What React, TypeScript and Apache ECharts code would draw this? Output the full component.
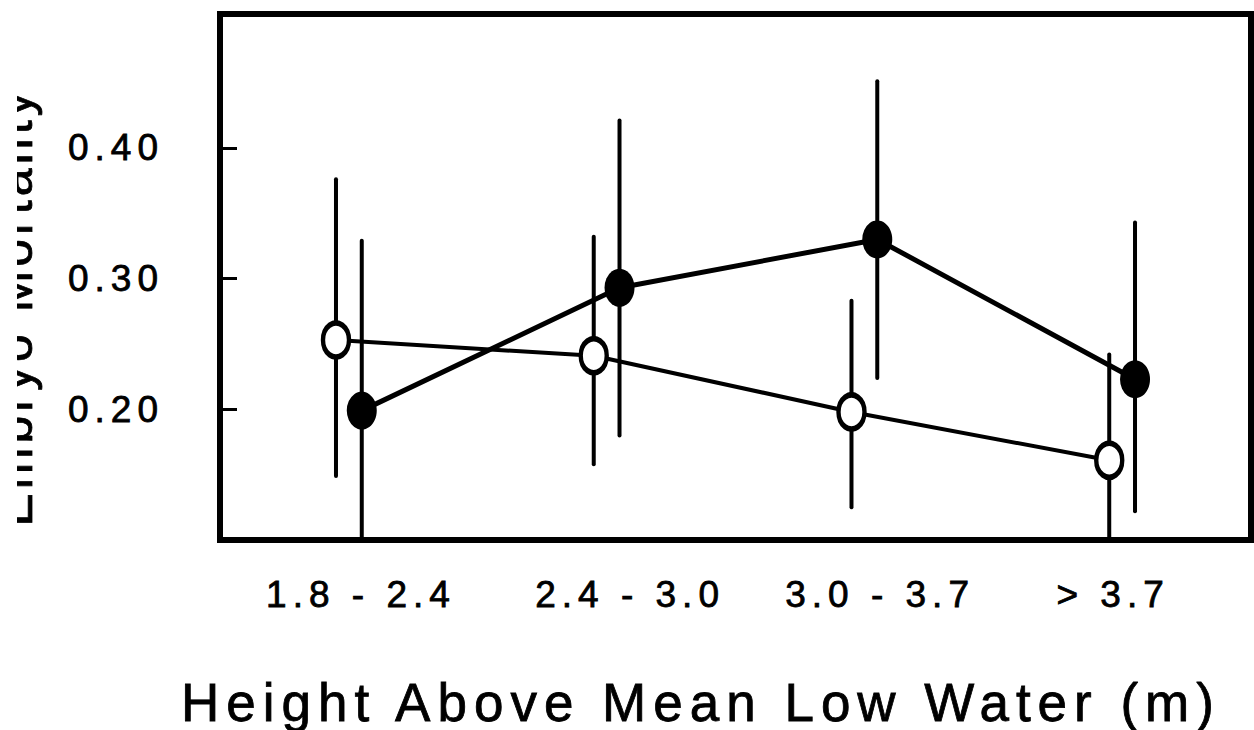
import React, { useEffect, useRef } from 'react';
import * as echarts from 'echarts';

const categories = ['1.8 - 2.4', '2.4 - 3.0', '3.0 - 3.7', '> 3.7'];
const categoryPos = [1, 2, 3, 4];
const yTickValues = [0.2, 0.3, 0.4];

// open circles
const openMean = [0.253, 0.241, 0.198, 0.161];
const openHigh = [0.376, 0.332, 0.283, 0.242];
const openLow = [0.149, 0.158, 0.125, 0.08];
// filled circles
const filledMean = [0.199, 0.293, 0.33, 0.223];
const filledHigh = [0.329, 0.421, 0.451, 0.343];
const filledLow = [0.068, 0.18, 0.224, 0.122];

// layout: where the category labels sit along the x axis (as in the original figure)
const X_LABEL_AT = [1.047, 2.091, 3.061, 3.965];

const Y_MIN = 0.1;
const Y_MAX = 0.5025;
const OFFSET = 0.05;
const FONT = "'Liberation Sans', Arial, Helvetica, sans-serif";
const TEXT_BOLDEN = { textBorderColor: '#000', textBorderWidth: 0.8 };

const css = `
.chartbox text { letter-spacing: 7px; }
.chartbox text[style*="37px"] { letter-spacing: 6px; }
.chartbox text[style*="50px"] { letter-spacing: 4px; }
`;

export default function App() {
  const ref = useRef<HTMLDivElement>(null);
  useEffect(() => {
    const chart = echarts.init(ref.current!, null, { renderer: 'svg' });
    const errorSeries = (xs: number[], lows: number[], highs: number[]) => ({
      type: 'custom',
      z: 1,
      clip: true,
      data: xs.map((x, i) => [x, lows[i], highs[i]]),
      encode: { x: 0, y: [1, 2] },
      renderItem: (_params: any, api: any) => {
        const x = api.value(0);
        const lo = Math.max(api.value(1), Y_MIN);
        const hi = api.value(2);
        const p1 = api.coord([x, lo]);
        const p2 = api.coord([x, hi]);
        return {
          type: 'line',
          shape: { x1: p1[0], y1: p1[1], x2: p2[0], y2: p2[1] },
          style: { stroke: '#000', lineWidth: 4, lineCap: 'round' },
        };
      },
    });
    const openX = categoryPos.map((p) => p - OFFSET);
    const filledX = categoryPos.map((p) => p + OFFSET);
    chart.setOption({
      animation: false,
      backgroundColor: '#fff',
      grid: {
        left: 203,
        right: 3,
        top: 14,
        bottom: 190,
        show: true,
        borderColor: '#000',
        borderWidth: 6,
        backgroundColor: 'transparent',
      },
      xAxis: {
        type: 'value',
        min: 0.5,
        max: 4.5,
        interval: 0.5,
        axisLine: { show: false },
        axisTick: { show: false },
        splitLine: { show: false },
        axisLabel: {
          customValues: X_LABEL_AT,
          formatter: (v: number) => {
            const i = X_LABEL_AT.findIndex((p) => Math.abs(p - v) < 1e-6);
            return i >= 0 ? categories[i] : '';
          },
          fontSize: 37,
          fontFamily: FONT,
          color: '#000',
          margin: 36,
          ...TEXT_BOLDEN,
        },
      },
      yAxis: {
        type: 'value',
        min: Y_MIN,
        max: Y_MAX,
        interval: 0.1,
        axisLine: { show: false },
        axisTick: {
          show: true,
          inside: true,
          length: 17,
          customValues: yTickValues,
          lineStyle: { color: '#000', width: 3 },
        },
        splitLine: { show: false },
        axisLabel: {
          customValues: yTickValues,
          formatter: (v: number) => v.toFixed(2),
          fontSize: 37,
          fontFamily: FONT,
          color: '#000',
          margin: 56,
          ...TEXT_BOLDEN,
        },
      },
      graphic: [
        {
          type: 'text',
          x: 684,
          y: 702,
          style: {
            text: 'Height Above Mean Low Water (m)',
            fontSize: 53,
            fontFamily: FONT,
            fill: '#000',
            stroke: '#000',
            lineWidth: 0.8,
            align: 'center',
            verticalAlign: 'middle',
          },
        },
        {
          type: 'text',
          x: -2,
          y: 307,
          rotation: Math.PI / 2,
          style: {
            text: 'Embryo Mortality',
            fontSize: 50,
            fontFamily: FONT,
            fill: '#000',
            stroke: '#000',
            lineWidth: 0.8,
            align: 'center',
            verticalAlign: 'middle',
          },
        },
      ],
      series: [
        errorSeries(openX, openLow, openHigh),
        errorSeries(filledX, filledLow, filledHigh),
        {
          type: 'line',
          z: 3,
          data: openX.map((x, i) => [x, openMean[i]]),
          symbol: 'circle',
          symbolSize: [26, 34],
          itemStyle: { color: '#fff', borderColor: '#000', borderWidth: 5 },
          lineStyle: { color: '#000', width: 4 },
        },
        {
          type: 'line',
          z: 4,
          data: filledX.map((x, i) => [x, filledMean[i]]),
          symbol: 'circle',
          symbolSize: [30, 38],
          itemStyle: { color: '#000' },
          lineStyle: { color: '#000', width: 5 },
        },
      ],
    });
    return () => chart.dispose();
  }, []);
  return (
    <>
      <style>{css}</style>
      <div
        ref={ref}
        className="chartbox"
        style={{ position: 'absolute', left: 17, top: 0, width: 1237, height: 730 }}
      />
    </>
  );
}
